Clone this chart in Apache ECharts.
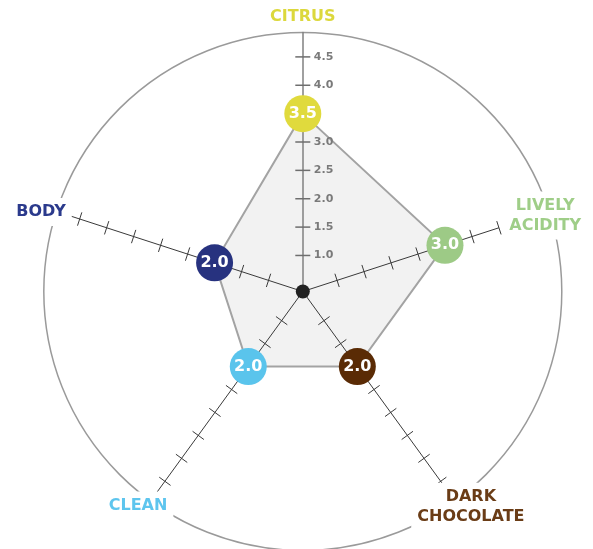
<!DOCTYPE html>
<html><head><meta charset="utf-8">
<script src="https://cdn.jsdelivr.net/npm/echarts@6/dist/echarts.min.js"></script>
<style>html,body{margin:0;padding:0;background:#fff}#c{width:593px;height:549px}</style>
</head><body><div id="c"></div>
<script>
// ---- data ----
const categories = ['CITRUS', 'LIVELY\nACIDITY', 'DARK\nCHOCOLATE', 'CLEAN', 'BODY'];
const scores = [3.5, 3.0, 2.0, 2.0, 2.0];
const tickValues = [1.0, 1.5, 2.0, 2.5, 3.0, 3.5, 4.0, 4.5];
const labelValues = [1.0, 1.5, 2.0, 2.5, 3.0, 4.0, 4.5];
const tickLabels = ['1.0', '1.5', '2.0', '2.5', '3.0', '4.0', '4.5'];
const axisTickMax = [4.5, 4.0, 4.5, 4.5, 4.5];
const axisEnd = [4.93, 4.0, 4.55, 4.79, 4.7];

// ---- styles / layout ----
const R_MIN = 0.365, R_MAX = 4.93;
const FONT = 'DejaVu Sans';
const markerColors = ['#e0da3d', '#9dca86', '#5a2b05', '#5ac4ec', '#27327f'];
const textColors = ['#dcd83c', '#9fce88', '#6a3c16', '#5dc5ee', '#2b3a8c'];
const labelLayout = [{r: 275, a: 0}, {r: 254, a: 72.6}, {r: 273, a: 142}, {r: 270, a: 217.6}, {r: 273.6, a: 286.9}];
const angleOf = i => i * 360 / categories.length;

const chart = echarts.init(document.getElementById('c'), null, {renderer: 'canvas'});
chart.setOption({
  animation: false,
  backgroundColor: '#fff',
  polar: {center: [302.8, 291.5], radius: 259},
  angleAxis: {
    type: 'value', min: 0, max: 360, startAngle: 90, clockwise: true, z: 0,
    axisLine: {lineStyle: {color: '#9a9a9a', width: 1.5}},
    axisTick: {show: false}, axisLabel: {show: false}, splitLine: {show: false}
  },
  radiusAxis: {
    type: 'value', min: R_MIN, max: R_MAX, z: 5,
    axisLine: {lineStyle: {color: '#808080', width: 1.5}},
    axisTick: {show: false}, splitLine: {show: false},
    axisLabel: {
      customValues: labelValues, margin: -11, align: 'left',
      formatter: v => { const k = labelValues.indexOf(v); return k >= 0 ? tickLabels[k] : ''; },
      color: '#7a7a7a', fontSize: 11, fontWeight: 'bold', fontFamily: FONT
    }
  },
  series: [
    {
      type: 'custom', coordinateSystem: 'polar', z: 1, silent: true,
      data: [[R_MIN, 0]],
      renderItem: (params, api) => {
        const pts = scores.map((v, i) => api.coord([v, angleOf(i)]));
        return {type: 'polygon', shape: {points: pts}, style: {fill: '#f2f2f2', stroke: '#a3a3a3', lineWidth: 2}};
      }
    },
    {
      type: 'custom', coordinateSystem: 'polar', z: 6, silent: true,
      data: categories.map((c, i) => [axisEnd[i], angleOf(i), axisTickMax[i], i]),
      renderItem: (params, api) => {
        const i = api.value(3), a = api.value(1);
        const c = api.coord([R_MIN, a]);
        const e = api.coord([api.value(0), a]);
        const dx = e[0] - c[0], dy = e[1] - c[1], L = Math.hypot(dx, dy);
        const px = -dy / L, py = dx / L;
        const top = i === 0;
        const children = [];
        if (!top) children.push({type: 'line', shape: {x1: c[0], y1: c[1], x2: e[0], y2: e[1]}, style: {stroke: '#3a3a3a', lineWidth: 1}});
        tickValues.filter(t => t <= api.value(2) + 1e-9).forEach(t => {
          const p = api.coord([t, a]);
          const h = top ? 7.5 : 7;
          children.push({type: 'line', shape: {x1: p[0] + px * h, y1: p[1] + py * h, x2: p[0] - px * h, y2: p[1] - py * h},
            style: {stroke: top ? '#6e6e6e' : '#3a3a3a', lineWidth: top ? 1.5 : 1}});
        });
        return {type: 'group', children};
      }
    },
    {
      type: 'scatter', coordinateSystem: 'polar', z: 10, silent: true,
      symbol: 'circle', symbolSize: 37,
      data: scores.map((v, i) => ({value: [v, angleOf(i)], itemStyle: {color: markerColors[i], opacity: 1}})),
      label: {show: true, position: 'inside', formatter: p => p.value[0].toFixed(1),
        color: '#fff', fontFamily: FONT, fontWeight: 'bold', fontSize: 16}
    },
    {
      type: 'scatter', coordinateSystem: 'polar', z: 11, silent: true,
      symbol: 'circle', symbolSize: 14,
      data: [[R_MIN, 0]], itemStyle: {color: '#222', opacity: 1}
    },
    {
      type: 'custom', coordinateSystem: 'polar', z: 20, silent: true,
      data: categories.map((c, i) => [R_MIN, angleOf(i), i]),
      renderItem: (params, api) => {
        const i = api.value(2);
        const c = api.coord([R_MIN, 0]);
        const lay = labelLayout[i];
        const ang = lay.a * Math.PI / 180;
        return {
          type: 'text', x: c[0] + lay.r * Math.sin(ang), y: c[1] - lay.r * Math.cos(ang),
          style: {text: categories[i], fill: textColors[i], fontFamily: FONT, fontWeight: 'bold', fontSize: 16,
            align: 'center', verticalAlign: 'middle', lineHeight: 20,
            backgroundColor: '#fff', padding: [4, 6]}
        };
      }
    }
  ]
});
</script>
</body></html>
